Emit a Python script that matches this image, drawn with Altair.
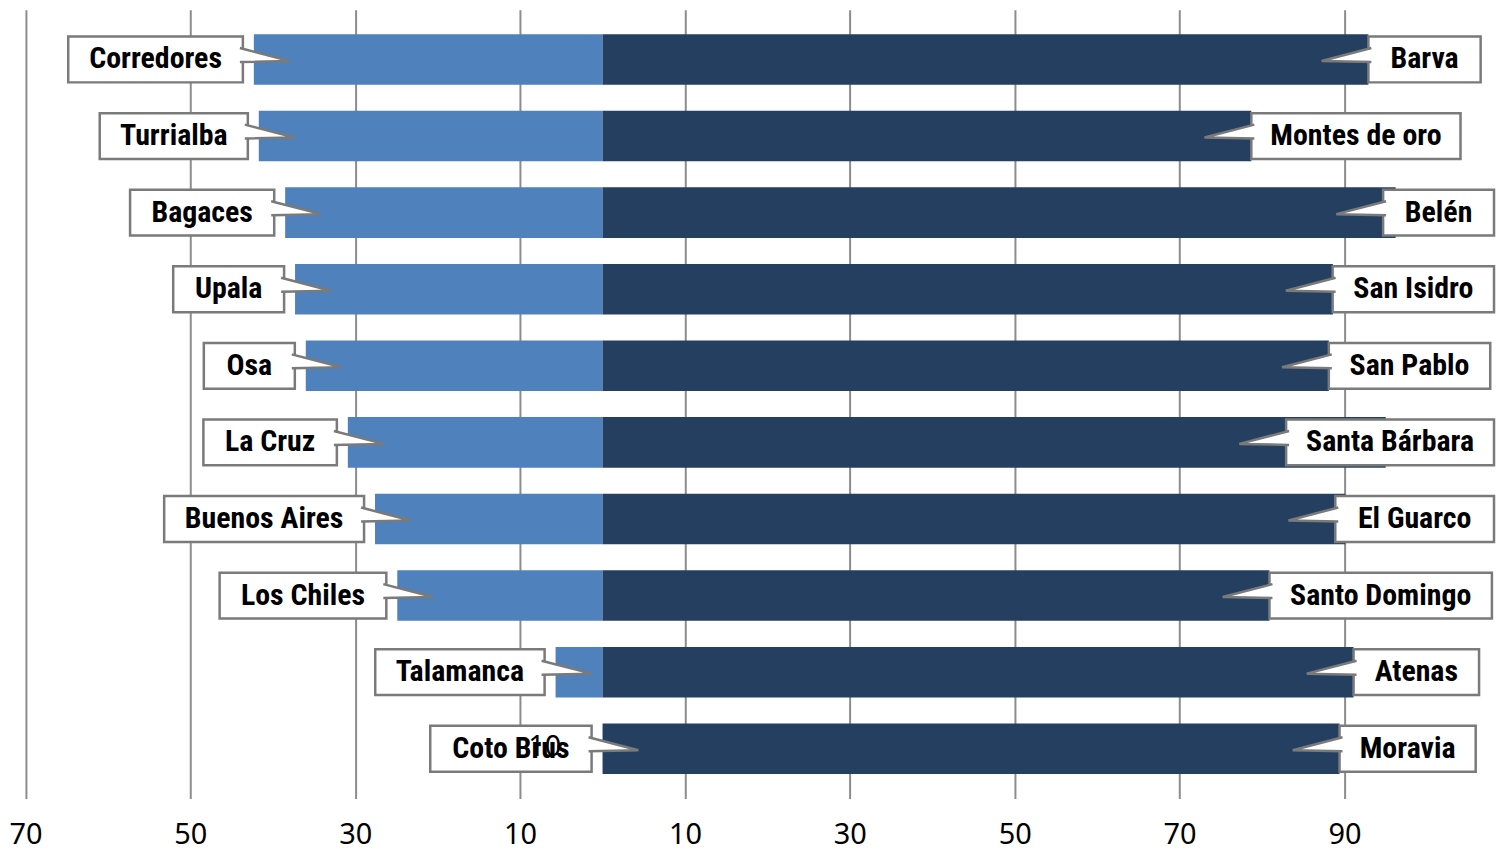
import altair as alt
import pandas as pd

# ---- data ----
left_names = ["Corredores", "Turrialba", "Bagaces", "Upala", "Osa", "La Cruz",
              "Buenos Aires", "Los Chiles", "Talamanca", "Coto Brus"]
left_values = [42.3, 41.7, 38.5, 37.3, 36.0, 30.9, 27.6, 24.9, 5.7, 0.0]
right_names = ["Barva", "Montes de oro", "Belén", "San Isidro", "San Pablo",
               "Santa Bárbara", "El Guarco", "Santo Domingo", "Atenas", "Moravia"]
right_values = [92.9, 78.7, 96.2, 88.6, 88.1, 95.0, 90.1, 80.9, 91.1, 89.4]
tick_values = [-70, -50, -30, -10, 10, 30, 50, 70, 90]
stray_text = ["10"]
stray_value = [-7.0]
stray_row = [9]

# ---- layout / style ----
W, H = 1494, 792
XMIN, XMAX = -72.0, 108.5
K = W / (XMAX - XMIN)          # px per data unit
LABEL_FONT = "Roboto Condensed, Liberation Sans Narrow, DejaVu Sans Condensed, sans-serif"
LABEL_SIZE = 30
AXIS_FONT = "Noto Sans, Open Sans, sans-serif"
LIGHT = "#4F81BD"
DARK = "#243F60"
BORDER = "#7a7a7a"
TAIL_LEN = 50                   # px, symbol extent incl. small overlap into box
TAIL_OVERLAP = 3

# approx. advance widths (Arial Bold, per 1000 em), narrowed
AB = {' ': 278, 'A': 722, 'B': 722, 'C': 722, 'D': 722, 'E': 667, 'G': 778, 'I': 278,
      'L': 611, 'M': 833, 'O': 778, 'P': 667, 'S': 667, 'T': 611, 'U': 722,
      'a': 556, 'á': 556, 'b': 611, 'c': 556, 'd': 611, 'e': 556, 'é': 556, 'g': 611,
      'h': 611, 'i': 278, 'l': 278, 'm': 889, 'n': 611, 'o': 611, 'p': 611, 'r': 389,
      's': 556, 't': 333, 'u': 611, 'v': 556, 'z': 500}


def text_px(s):
    return sum(AB.get(c, 556) for c in s) / 1000 * 0.80 * LABEL_SIZE


def box_px(s):
    return text_px(s) + 46


rows = list(range(len(left_names)))

bars = pd.DataFrame(
    [{"row": r, "start": 0.0, "end": -v, "side": "left"} for r, v in zip(rows, left_values)] +
    [{"row": r, "start": 0.0, "end": v, "side": "right"} for r, v in zip(rows, right_values)]
)

lrec = []
for r, name, v in zip(rows, left_names, left_values):
    x1 = -v - 11 / K
    x0 = x1 - box_px(name) / K
    lrec.append({"row": r, "label": name, "x0": x0, "x1": x1, "xm": (x0 + x1) / 2,
                 "tail": x1 + (TAIL_LEN / 2 - TAIL_OVERLAP) / K})
left_lab = pd.DataFrame(lrec)

RLIM = XMAX - 3 / K
rrec = []
for r, name, v in zip(rows, right_names, right_values):
    w = box_px(name) / K
    x0 = min(v, RLIM - w)
    x1 = x0 + w
    rrec.append({"row": r, "label": name, "x0": x0, "x1": x1, "xm": (x0 + x1) / 2,
                 "tail": x0 - (TAIL_LEN / 2 - TAIL_OVERLAP) / K})
right_lab = pd.DataFrame(rrec)

stray = pd.DataFrame({"row": stray_row, "x": stray_value, "t": stray_text})

yenc = alt.Y("row:O", axis=None,
             scale=alt.Scale(paddingInner=0.34, paddingOuter=0.32))
xscale = alt.Scale(domain=[XMIN, XMAX], nice=False, zero=False)

bar_layer = alt.Chart(bars).mark_bar().encode(
    x=alt.X("start:Q", scale=xscale,
            axis=alt.Axis(values=tick_values, labelExpr="abs(datum.value)",
                          grid=True, gridColor="#8c8c8c", gridWidth=2,
                          ticks=False, domain=False, title=None,
                          labelFont=AXIS_FONT, labelFontSize=29,
                          labelColor="#000000", labelPadding=22)),
    x2="end:Q",
    y=yenc,
    color=alt.Color("side:N", scale=alt.Scale(domain=["left", "right"], range=[LIGHT, DARK]),
                    legend=None),
)


def boxes(df):
    return alt.Chart(df).mark_bar(size=46, fill="white", stroke=BORDER,
                                  strokeWidth=2.5).encode(
        x=alt.X("x0:Q", scale=xscale), x2="x1:Q", y=yenc)


def tails(df, path):
    return alt.Chart(df).mark_point(shape=path, size=TAIL_LEN ** 2, filled=True,
                                    fill="white", stroke=BORDER, strokeWidth=2.5,
                                    opacity=1, fillOpacity=1).encode(
        x=alt.X("tail:Q", scale=xscale), y=yenc)


def texts(df):
    return alt.Chart(df).mark_text(font=LABEL_FONT, fontSize=LABEL_SIZE, fontWeight="bold",
                                   color="#000000", align="center", baseline="middle",
                                   dy=0).encode(
        x=alt.X("xm:Q", scale=xscale), y=yenc, text="label:N")


right_tail_path = "M -1 -0.46 L 1 0.06 L -1 0.1"
left_tail_path = "M 1 -0.46 L -1 0.06 L 1 0.1"

stray_layer = alt.Chart(stray).mark_text(font=AXIS_FONT, fontSize=29, color="#000000",
                                         align="center", baseline="middle", dy=-2).encode(
    x=alt.X("x:Q", scale=xscale), y=yenc, text="t:N")

chart = alt.layer(
    bar_layer,
    boxes(left_lab), tails(left_lab, right_tail_path),
    boxes(right_lab), tails(right_lab, left_tail_path),
    texts(left_lab), texts(right_lab),
    stray_layer,
).properties(
    width=W, height=H, padding={"left": 0, "top": 0, "right": 0, "bottom": 0},
    background="white",
).configure_view(stroke=None)

chart.save("out.html", embed_options={"renderer": "svg", "actions": False})
